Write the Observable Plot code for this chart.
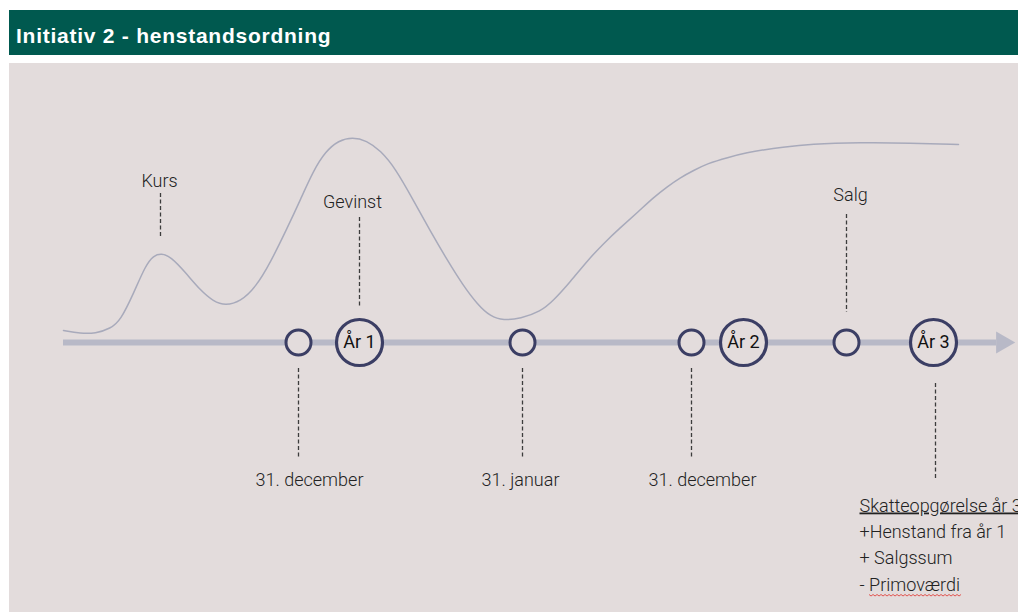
<!DOCTYPE html>
<html><head><meta charset="utf-8">
<script src="https://cdn.jsdelivr.net/npm/d3@7"></script>
<script src="https://cdn.jsdelivr.net/npm/@observablehq/plot@0.6"></script>
<style>
body{margin:0;background:#fff;}
#header{position:absolute;left:9px;top:10px;width:1009px;height:31px;padding-top:14px;background:#00594f;color:#fff;font:bold 21px "Liberation Sans",Arial,sans-serif;letter-spacing:0.75px;line-height:23px;}
#header span{margin-left:7px}
#chart{position:absolute;left:9px;top:63px;width:1009px;height:549px;overflow:hidden;}
</style></head><body>
<div id="header"><span id="title"></span></div>
<div id="chart"></div>
<script>
const title = "Initiativ 2 - henstandsordning";

// Kurs curve: time position (timeline units) and price level
const kursT = [0, 1.7, 3.2, 4.7, 5.7, 7.0, 8.2, 9.0, 9.8, 10.7, 12.2, 13.7, 15.0, 16.2, 17.7, 19.2, 20.7, 22.4, 23.7, 25.0, 26.2, 27.5, 28.9, 30.3, 31.7, 33.2, 35.0, 36.7, 38.4, 39.9, 41.4, 42.7, 44.0, 45.7, 47.7, 49.0, 50.7, 52.4, 54.0, 55.7, 57.4, 59.0, 60.4, 61.7, 63.0, 64.4, 66.4, 68.4, 70.2, 71.7, 74.7, 79.7, 84.7, 89.5];
const kursV = [1.2, 0.9, 0.9, 1.4, 2.2, 4.9, 7.7, 8.7, 8.9, 8.6, 7.0, 5.2, 4.1, 3.7, 4.1, 5.5, 8.0, 11.5, 14.3, 17.2, 19.1, 20.2, 20.55, 20.2, 19.2, 17.4, 14.2, 11.1, 8.2, 5.8, 3.8, 2.6, 2.2, 2.4, 3.1, 4.2, 6.1, 8.2, 9.9, 11.5, 13.0, 14.5, 15.6, 16.5, 17.2, 17.9, 18.5, 19.0, 19.3, 19.5, 19.85, 20.0, 19.95, 19.8];

// Timeline
const axisStart = 0;
const axisEnd = 93.3;
const arrowT = 93.9;
const eventT = [23.5, 45.9, 62.8, 78.3];          // small circles
const yearT = [29.6, 68.0, 87.0];                 // year circles
const yearLabels = ["År 1", "År 2", "År 3"];

// Labels above the timeline
const upperLabels = ["Kurs", "Gevinst", "Salg"];
const upperLabelT = [9.6, 28.9, 78.7];
const upperLabelV = [15.6, 13.5, 14.2];
const upperGuideT = [9.7, 29.6, 78.3];
const upperGuideTop = [14.9, 12.5, 12.8];
const upperGuideBottom = [10.6, 3.6, 3.0];

// Labels below the timeline
const lowerLabels = ["31. december", "31. januar", "31. december"];
const lowerLabelT = [24.6, 45.7, 63.9];
const lowerLabelV = [-14.3, -14.3, -14.3];
const lowerGuideT = [23.5, 45.9, 62.8, 87.2];
const lowerGuideTop = [-2.6, -2.6, -2.6, -4.1];
const lowerGuideBottom = [-11.5, -11.5, -11.5, -13.6];

// Note under År 3
const noteLines = ["Skatteopgørelse år 3", "+Henstand fra år 1", "+ Salgssum", "- Primoværdi"];
const noteT = 79.6;
const noteV = [-16.9, -19.5, -22.1, -24.8];

document.getElementById("title").textContent = title;

const bg = "#e3dcdc";
const kurs = kursT.map((t, i) => ({t, v: kursV[i]}));
const years = yearT.map((t, i) => ({t, label: yearLabels[i]}));
const upper = upperLabels.map((label, i) => ({label, t: upperLabelT[i], v: upperLabelV[i]}));
const upperGuides = upperGuideT.map((t, i) => ({t, top: upperGuideTop[i], bottom: upperGuideBottom[i]}));
const lower = lowerLabels.map((label, i) => ({label, t: lowerLabelT[i], v: lowerLabelV[i]}));
const lowerGuides = lowerGuideT.map((t, i) => ({t, top: lowerGuideTop[i], bottom: lowerGuideBottom[i]}));
const notes = noteLines.map((label, i) => ({label, t: noteT, v: noteV[i]}));

const labelFont = {fontFamily: "Roboto, sans-serif", fontWeight: 300, fontSize: 18, fill: "#222"};
const dash = {stroke: "#3c3c3c", strokeWidth: 1.3, strokeDasharray: "4,2.5"};

const chart = Plot.plot({
  width: 1009,
  height: 549,
  margin: 0,
  style: {background: bg, overflow: "hidden"},
  x: {domain: [-5.4, 95.5], axis: null},
  y: {domain: [-27, 27.9], axis: null},
  marks: [
    Plot.line(kurs, {x: "t", y: "v", curve: "basis", stroke: "#a8aabb", strokeWidth: 1.5}),
    Plot.ruleY([0], {x1: axisStart, x2: axisEnd, stroke: "#b8b9c7", strokeWidth: 6}),
    Plot.dot([arrowT], {x: d => d, y: 0, symbol: "triangle", r: 8.2, rotate: 90, fill: "#b8b9c7", stroke: null}),
    Plot.ruleX(upperGuides, {x: "t", y1: "top", y2: "bottom", ...dash}),
    Plot.ruleX(lowerGuides, {x: "t", y1: "top", y2: "bottom", ...dash}),
    Plot.dot(eventT, {x: d => d, y: 0, r: 12.5, stroke: "#3b3e64", strokeWidth: 3, fill: bg}),
    Plot.dot(years, {x: "t", y: 0, r: 23, stroke: "#3b3e64", strokeWidth: 3.2, fill: bg}),
    Plot.text(years, {x: "t", y: 0, text: "label", fontFamily: "Roboto, sans-serif", fontSize: 18, fontWeight: 400, fill: "#111"}),
    Plot.text(upper, {x: "t", y: "v", text: "label", lineAnchor: "bottom", ...labelFont}),
    Plot.text(lower, {x: "t", y: "v", text: "label", lineAnchor: "bottom", ...labelFont}),
    Plot.text(notes, {x: "t", y: "v", text: "label", lineAnchor: "bottom", textAnchor: "start", ...labelFont})
  ]
});

document.getElementById("chart").appendChild(chart);

// Underline the heading of the note, and the spell-check squiggle under "Primoværdi"
d3.select(chart).selectAll("text").each(function() {
  const s = this.textContent;
  if (s === noteLines[0]) {
    d3.select(this).style("text-decoration", "underline");
  } else if (s === noteLines[3]) {
    const n = s.length;
    const x0 = this.getStartPositionOfChar(2).x;
    const x1 = this.getEndPositionOfChar(n - 1).x;
    const base = this.getStartPositionOfChar(2).y;
    const y0 = base + 4;
    let d = `M${x0},${y0}`;
    for (let x = x0, k = 0; x < x1; x += 2, k++) {
      d += `L${x + 2},${y0 + (k % 2 ? 0 : 1.5)}`;
    }
    const p = document.createElementNS("http://www.w3.org/2000/svg", "path");
    this.parentNode.appendChild(p);
    d3.select(p).attr("d", d).attr("fill", "none").attr("stroke", "#e0302a").attr("stroke-width", 0.8)
      .attr("transform", this.getAttribute("transform"));
  }
});
</script>
</body></html>
